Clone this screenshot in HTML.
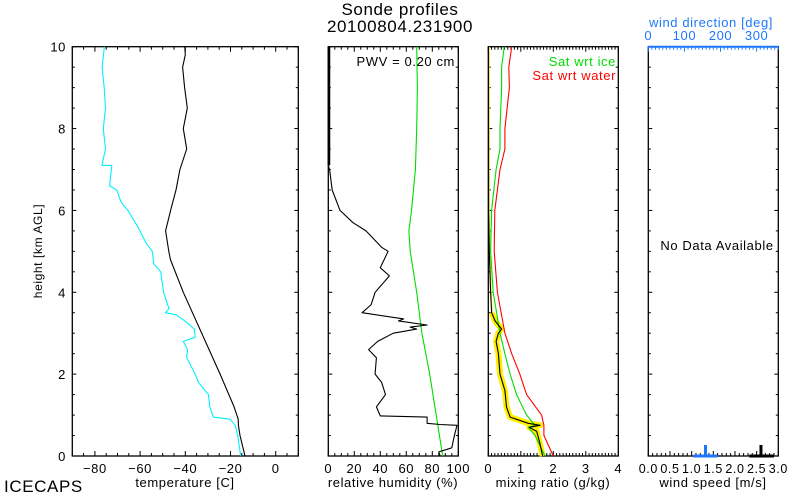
<!DOCTYPE html>
<html><head><meta charset="utf-8"><style>
body{margin:0;background:#fff}
svg{display:block;font-family:"Liberation Sans",sans-serif}
text{letter-spacing:0.6px}
</style></head><body>
<svg id="chart" width="800" height="500" viewBox="0 0 800 500">
<rect width="800" height="500" fill="#fff"/>
<text x="400" y="15" font-size="17" text-anchor="middle">Sonde profiles</text>
<text x="400" y="32" font-size="17" text-anchor="middle">20100804.231900</text>
<text x="4" y="492" font-size="17">ICECAPS</text>
<g id="g"></g>
</svg>
<script>
const heights=[0,0.5,0.75,0.9,1.2,2,4,4.8,5,5.5,6,6.5,7,7.5,8,8.5,9,9.5,9.8,10];
const temps=[-13.6,-15.8,-16.5,-16.6,-18.4,-24.6,-40.9,-46.6,-47.3,-48.7,-46.5,-44.1,-42.4,-39.4,-40.9,-39.1,-40.3,-41.2,-40,-40.2];
const dpH=[0,0.5,0.75,0.9,0.95,1.2,1.5,1.8,2,2.4,2.6,2.8,2.9,3.1,3.3,3.45,3.5,3.6,4,4.5,4.7,5,5.2,5.6,6,6.2,6.5,6.6,7.1,7.1,7.5,8,8.5,9,9.5,10];
const dewpoints=[-15.5,-16.8,-17.9,-20.2,-27.6,-29.1,-29.8,-34.2,-35.6,-39.4,-39,-40.9,-35.6,-36,-40.2,-44,-48.8,-47.2,-49.6,-50.9,-54,-54.6,-57.3,-61,-65.4,-68.4,-70.3,-73.5,-72.5,-76.9,-75.3,-76.3,-75.3,-75.9,-76.8,-75.8];
const rhH=[0,0.1,0.2,0.5,0.75,0.77,0.8,0.95,0.98,1.2,1.5,1.8,2,2.4,2.6,2.8,3,3.1,3.15,3.2,3.3,3.35,3.5,3.7,4,4.4,4.6,5,5.1,5.5,5.7,6,6.5,7,7.1,10];
const rh=[86,85,95,97,99,86,76,76,40,37,44,41,36,37,31,38,50,68,63,76,54,58,26,33,36,47,40,46,41,29,19,9,3,1,0,0];
const rhiH=[0,1,2,3,4,5,5.5,6,7,8,9,10];
const rhIce=[88,83,78,72,68,63,62,64,67,68,68.5,68];
const mrH=[0,0.3,0.6,0.7,0.75,0.8,0.95,1.2,1.6,2,2.5,2.8,3,3.1,3.3,3.5,4,5,6,10];
const mr=[1.67,1.59,1.49,1.26,1.59,1.23,0.67,0.56,0.51,0.36,0.31,0.24,0.31,0.41,0.21,0.1,0.07,0.03,0.01,0.005];
const satH=[0,0.5,0.7,0.75,1,1.5,2,2.5,3,4,5,6,7,7.5,8,9,9.5,10];
const satIce=[1.74,1.44,1.23,1.44,1.18,0.87,0.67,0.51,0.36,0.15,0.07,0.1,0.24,0.36,0.36,0.41,0.41,0.49];
const satWater=[2.0,1.71,1.71,1.71,1.64,1.18,0.97,0.72,0.51,0.28,0.18,0.2,0.36,0.51,0.51,0.65,0.63,0.72];
const windSpd=[1.32,2.6];
const tTicks=[-80,-60,-40,-20,0];
const rhTicks=[0,20,40,60,80,100];
const mrTicks=[0,1,2,3,4];
const wsTicks=["0.0","0.5","1.0","1.5","2.0","2.5","3.0"];
const wdTicks=[0,100,200,300];
const hTicks=[0,2,4,6,8,10];

const NS="http://www.w3.org/2000/svg";
const g=document.getElementById('g');
const T=46.7,B=456;
const yH=h=>B-(B-T)*h/10;
function mk(tag,at,parent){const e=document.createElementNS(NS,tag);for(const k in at)e.setAttribute(k,at[k]);(parent||g).appendChild(e);return e;}
function panel(L,R,x0,x1,name){
  const sx=v=>L+(R-L)*(v-x0)/(x1-x0);
  const f=mk('rect',{x:L,y:T,width:R-L,height:B-T,fill:'none',stroke:'#000','stroke-width':1.3});
  
  
  return sx;
}
function line(xs,hs,sx,color,w,name){
  const d=xs.map((v,i)=>(i?'L':'M')+sx(v).toFixed(1)+','+yH(hs[i]).toFixed(1)).join('');
  const p=mk('path',{d:d,fill:'none',stroke:color,'stroke-width':w,'stroke-linejoin':'round'});
  
  
  return p;
}
function xticks(L,R,x0,x1,minor,major,top,bottom,color){
  const sx=v=>L+(R-L)*(v-x0)/(x1-x0);
  for(let v=Math.ceil(x0/minor)*minor;v<=x1+1e-9;v+=minor){
    const isM=Math.abs(v/major-Math.round(v/major))<1e-6;const len=isM?5:3;const x=sx(v);
    if(bottom)mk('line',{x1:x,x2:x,y1:B,y2:B-len,stroke:color,'stroke-width':1});
    if(top)mk('line',{x1:x,x2:x,y1:T,y2:T+len,stroke:color,'stroke-width':1});
  }
}
function yticks(L,R){
  for(let h=0;h<=10.001;h+=0.5){const isM=Math.abs(h%2)<1e-6;const len=isM?4:2.5;
    mk('line',{x1:L,x2:L+len,y1:yH(h),y2:yH(h),stroke:'#000'});
    mk('line',{x1:R,x2:R-len,y1:yH(h),y2:yH(h),stroke:'#000'});}
}
function label(x,y,t,name,opts){const e=mk('text',Object.assign({x:x,y:y,'font-size':13,'text-anchor':'middle'},opts||{}));e.textContent=t;
  
  return e;}

// Panel 1 temperature
let sx=panel(72.3,298.3,-90,10,'temperature-panel');
xticks(72.3,298.3,-90,10,5,20,true,true,'#000');yticks(72.3,298.3);
line(temps,heights,sx,'#000',1.1,'temperature-line');
line(dewpoints,dpH,sx,'#00f0ff',1.1,'dewpoint-line');
tTicks.forEach(v=>label(sx(v),473,v===0?'0':'\u2212'+Math.abs(v),'temperature-tick-label'));
label(185,487,'temperature [C]','temperature-axis-title');
hTicks.forEach(h=>label(66,yH(h)+5,String(h),'height-tick-label',{'text-anchor':'end'}));
label(42,251,'height [km AGL]','height-axis-title',{transform:'rotate(-90 42 251)','font-size':12});

// Panel 2 RH
sx=panel(328.3,458.3,0,100,'rh-panel');
xticks(328.3,458.3,0,100,5,20,true,true,'#000');yticks(328.3,458.3);
line(rhIce,rhiH,sx,'#00dd00',1.1,'rh-ice-saturation-line');
line(rh,rhH,sx,'#000',1.1,'rh-line');
mk('line',{x1:329,x2:329,y1:T,y2:yH(7.1),stroke:'#000','stroke-width':2.5});
rhTicks.forEach(v=>label(sx(v),473,String(v),'rh-tick-label'));
label(393,487,'relative humidity (%)','rh-axis-title');
label(455,66,'PWV = 0.20 cm','pwv-label',{'text-anchor':'end'});

// Panel 3 mixing ratio
sx=panel(488.3,618.3,0,4,'mixing-ratio-panel');
xticks(488.3,618.3,0,4,0.1,1,true,true,'#000');yticks(488.3,618.3);
line(mr.filter((v,i)=>mrH[i]<=3.5),mrH.filter(h=>h<=3.5),sx,'#ffee00',6,'mixing-ratio-highlight');
line(mr.map(v=>v+0.02),mrH,sx,'#ffee00',1,'mixing-ratio-yellow-line');
line(satWater,satH,sx,'#ff0000',1.1,'sat-water-line');
line(satIce,satH,sx,'#00dd00',1.1,'sat-ice-line');
line(mr,mrH,sx,'#000',1.1,'mixing-ratio-line');
mrTicks.forEach(v=>label(sx(v),473,String(v),'mr-tick-label'));
label(553,487,'mixing ratio (g/kg)','mr-axis-title');
label(616,66,'Sat wrt ice','legend-sat-ice',{'text-anchor':'end',fill:'#00dd00'});
label(616,80,'Sat wrt water','legend-sat-water',{'text-anchor':'end',fill:'#ff0000'});

// Panel 4 wind
sx=panel(648.3,778.3,0,3,'wind-panel');
xticks(648.3,778.3,0,3,0.1,0.5,false,true,'#000');yticks(648.3,778.3);
mk('line',{x1:648.3,x2:778.3,y1:T,y2:T,stroke:'#1e78ff','stroke-width':2});
xticks(648.3,778.3,0,360,10,100,true,false,'#1e78ff');
mk('rect',{x:sx(windSpd[0])-1.5,y:445,width:3,height:11,fill:'#1e78ff'});
mk('rect',{x:sx(windSpd[0]-0.28),y:454.5,width:sx(0.56)-648.3,height:3,fill:'#1e78ff'});
mk('rect',{x:sx(windSpd[1])-1.5,y:445,width:3,height:11,fill:'#000'});
mk('rect',{x:sx(windSpd[1]-0.27),y:454.5,width:sx(0.57)-648.3,height:3,fill:'#000'});
wsTicks.forEach(v=>label(sx(+v),473,v,'wind-speed-tick-label',{'font-size':12.5,'letter-spacing':'0.2px'}));
label(713,487,'wind speed [m/s]','wind-speed-axis-title');
const sd=v=>648.3+130*v/360;
wdTicks.forEach(v=>label(sd(v),40,String(v),'wind-dir-tick-label',{fill:'#1e78ff'}));
label(711,27,'wind direction [deg]','wind-dir-axis-title',{fill:'#1e78ff'});
label(717,250,'No Data Available','no-data-label');
</script>
</body></html>
